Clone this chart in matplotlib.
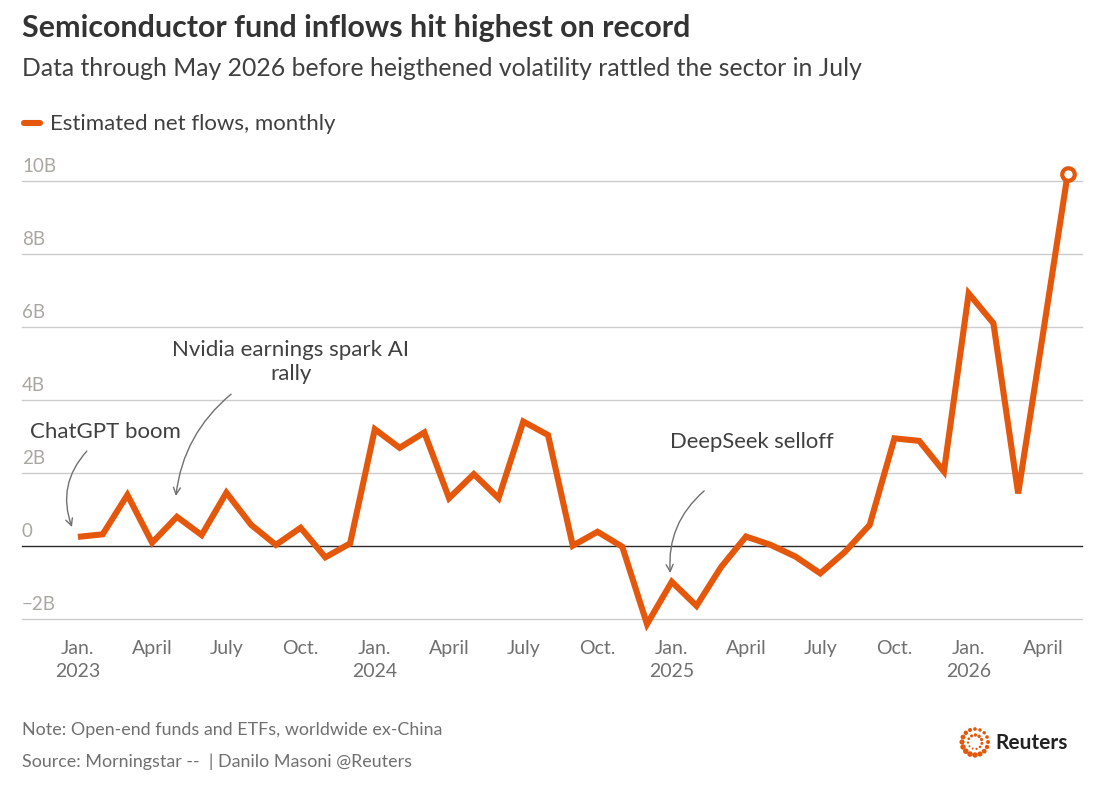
"""
Semiconductor fund inflows - Reuters style line chart
"""

import numpy as np
import matplotlib
matplotlib.use("Agg")
import matplotlib.pyplot as plt
import matplotlib.transforms as mtransforms

plt.rcParams['font.family'] = ['Lato', 'DejaVu Sans']

# Monthly estimated net flows, billions USD, Jan 2023 .. May 2026
flows_2023 = [0.25, 0.32, 1.40, 0.09, 0.80, 0.30, 1.46, 0.58, 0.03, 0.50, -0.31, 0.07]
flows_2024 = [3.20, 2.69, 3.11, 1.31, 1.97, 1.31, 3.41, 3.04, 0.01, 0.39, -0.02, -2.14]
flows_2025 = [-0.98, -1.64, -0.57, 0.26, 0.03, -0.29, -0.75, -0.16, 0.58, 2.95, 2.88, 2.04]
flows_2026 = [6.92, 6.10, 1.44, 5.80, 10.19]
flows = flows_2023 + flows_2024 + flows_2025 + flows_2026
months = np.arange(len(flows))

tick_months = list(range(0, 41, 3))
tick_labels = ['Jan.\n2023', 'April', 'July', 'Oct.',
               'Jan.\n2024', 'April', 'July', 'Oct.',
               'Jan.\n2025', 'April', 'July', 'Oct.',
               'Jan.\n2026', 'April']
y_ticks = [-2, 0, 2, 4, 6, 8, 10]
y_labels = ['\u22122B', '0', '2B', '4B', '6B', '8B', '10B']

ORANGE = '#E5580C'
W, H = 1107, 790

fig = plt.figure(figsize=(W / 100, H / 100), dpi=100)
fig.patch.set_facecolor('white')

# axes placed by pixel box: x 22..1082, y 181 (10B) .. 619 (-2B)
ax = fig.add_axes([22 / W, 1 - 619 / H, (1082 - 22) / W, (619 - 181) / H])
ax.set_xlim(-2.26, 40.58)
ax.set_ylim(-2, 10)

for s in ax.spines.values():
    s.set_visible(False)

# grid
for v in y_ticks:
    if v == 0:
        ax.axhline(v, color='#2b2b2b', lw=1.0, zorder=2, clip_on=False)
    else:
        ax.axhline(v, color='#cccccc', lw=1.0, zorder=1, clip_on=False)

ax.set_yticks([])
trans = mtransforms.blended_transform_factory(ax.transAxes, ax.transData)
for v, lab in zip(y_ticks, y_labels):
    ax.annotate(lab, xy=(0, v), xycoords=trans, xytext=(0, 4), textcoords='offset points',
                ha='left', va='bottom', fontsize=13.5, color='#aaa6a2')

ax.set_xticks(tick_months)
ax.set_xticklabels(tick_labels, fontsize=14, color='#707070', linespacing=1.45)
ax.tick_params(axis='x', length=0, pad=15)

# the line
ax.plot(months, flows, color=ORANGE, lw=4.4, solid_joinstyle='miter',
        solid_capstyle='butt', clip_on=False, zorder=3)
ax.plot(months[-1], flows[-1], 'o', ms=9, mfc='white', mec=ORANGE, mew=3,
        clip_on=False, zorder=4)

# annotations
ann_color = '#404040'
arrow_kw = dict(arrowstyle='->,head_length=0.5,head_width=0.25', color='#707070', lw=1.0,
                shrinkA=0, shrinkB=0)

ax.text(-1.94, 3.12, 'ChatGPT boom', fontsize=16, color=ann_color, ha='left', va='center')
ax.annotate('', xy=(-0.24, 0.52), xytext=(0.36, 2.6),
            arrowprops=dict(connectionstyle='arc3,rad=0.3', **arrow_kw))

ax.text(8.61, 5.05, 'Nvidia earnings spark AI\nrally', fontsize=16, color=ann_color,
        ha='center', va='center', linespacing=1.25)
ax.annotate('', xy=(3.96, 1.37), xytext=(6.19, 4.16),
            arrowprops=dict(connectionstyle='arc3,rad=0.2', **arrow_kw))

ax.text(23.94, 2.85, 'DeepSeek selloff', fontsize=15.8, color=ann_color, ha='left', va='center')
ax.annotate('', xy=(23.94, -0.74), xytext=(25.31, 1.51),
            arrowprops=dict(connectionstyle='arc3,rad=0.25', **arrow_kw))

# titles
fig.text(22 / W, 1 - 37 / H, 'Semiconductor fund inflows hit highest on record',
         fontsize=21.9, fontweight='bold', color='#333333', ha='left', va='baseline')
fig.text(22 / W, 1 - 76 / H,
         'Data through May 2026 before heigthened volatility rattled the sector in July',
         fontsize=17.8, color='#404040', ha='left', va='baseline')

# legend
fig.add_artist(plt.Line2D([24 / W, 40 / W], [1 - 123 / H, 1 - 123 / H], color=ORANGE,
                          lw=4.4, solid_capstyle='round'))
fig.text(50 / W, 1 - 130 / H, 'Estimated net flows, monthly', fontsize=16,
         color='#404040', ha='left', va='baseline')

# footer
fig.text(22 / W, 1 - 735 / H, 'Note: Open-end funds and ETFs, worldwide ex-China',
         fontsize=12.85, color='#707070', ha='left', va='baseline')
fig.text(22 / W, 1 - 767 / H, 'Source: Morningstar --  | Danilo Masoni @Reuters',
         fontsize=12.85, color='#707070', ha='left', va='baseline')

# Reuters logo: rings of dots
cx, cy = 975, 742
ang_out = np.linspace(0, 2 * np.pi, 16, endpoint=False)
ang_in = np.linspace(0, 2 * np.pi, 11, endpoint=False) + 0.2
sizes_out = 6 + 5 * (np.cos(ang_out - 2.2) + 1)
sizes_in = 2 + 2 * (np.cos(ang_in + 1.0) + 1)
logo = fig.add_axes([0, 0, 1, 1], facecolor='none')
logo.set_xlim(0, W)
logo.set_ylim(H, 0)
logo.axis('off')
logo.scatter(cx + 13 * np.cos(ang_out), cy + 13 * np.sin(ang_out), s=sizes_out, color=ORANGE, lw=0)
logo.scatter(cx + 7 * np.cos(ang_in), cy + 7 * np.sin(ang_in), s=sizes_in, color=ORANGE, lw=0)
fig.text(995 / W, 1 - 749 / H, 'Reuters', fontsize=15, fontweight='bold',
         color='#222222', ha='left', va='baseline')

fig.savefig('out.png', dpi=100, facecolor='white')
